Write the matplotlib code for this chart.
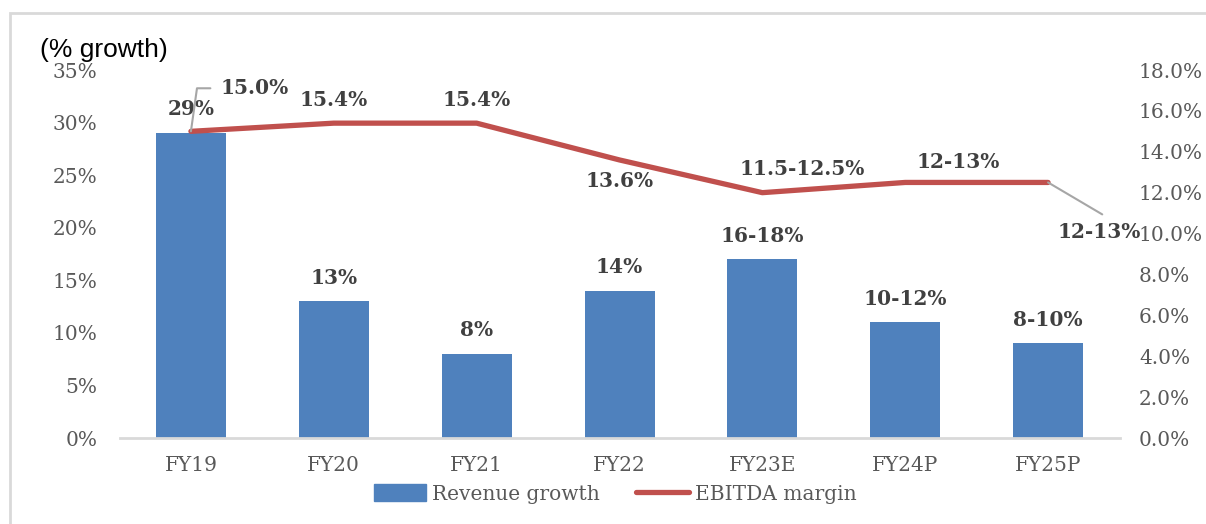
import matplotlib
matplotlib.use("Agg")
import matplotlib.pyplot as plt
from matplotlib.patches import Rectangle
from matplotlib.lines import Line2D

categories = ["FY19", "FY20", "FY21", "FY22", "FY23E", "FY24P", "FY25P"]
revenue_growth = [29, 13, 8, 14, 17, 11, 9]
revenue_labels = ["29%", "13%", "8%", "14%", "16-18%", "10-12%", "8-10%"]
ebitda_margin = [15.0, 15.4, 15.4, 13.6, 12.0, 12.5, 12.5]
ebitda_labels = ["15.0%", "15.4%", "15.4%", "13.6%", "11.5-12.5%", "12-13%", "12-13%"]
left_ticks = [0, 5, 10, 15, 20, 25, 30, 35]
right_ticks = [0, 2, 4, 6, 8, 10, 12, 14, 16, 18]

SERIF = ["DejaVu Serif"]
TICK_COLOR = "#595959"
LABEL_COLOR = "#404040"
BAR_COLOR = "#4F81BD"
LINE_COLOR = "#C0504D"
FS = 14.5

W, H = 1206, 524
fig = plt.figure(figsize=(W / 100, H / 100), dpi=100)

# outer border (only top and left edges visible)
fig.patches.append(Rectangle((10 / W, -0.5), 1.2, 0.5 + (H - 13) / H, transform=fig.transFigure,
                             fill=False, edgecolor="#D9D9D9", linewidth=2))

ax = fig.add_axes([119.5 / W, 1 - 438 / H, 1000 / W, 368 / H])
x = list(range(len(categories)))
ax.bar(x, revenue_growth, width=0.49, color=BAR_COLOR, zorder=2)
ax.set_xlim(-0.5, len(categories) - 0.5)
ax.set_ylim(0, 35)
ax.set_yticks(left_ticks)
ax.set_yticklabels([f"{t}%" for t in left_ticks], family=SERIF, fontsize=FS, color=TICK_COLOR)
ax.set_xticks(x)
ax.set_xticklabels(categories, family=SERIF, fontsize=FS, color=TICK_COLOR)
ax.tick_params(axis="y", length=0, pad=16)
ax.tick_params(axis="x", length=0, pad=13)
for s in ["top", "right", "left"]:
    ax.spines[s].set_visible(False)
ax.spines["bottom"].set_color("#D9D9D9")
ax.spines["bottom"].set_linewidth(2)

ax2 = ax.twinx()
ax2.plot(x, ebitda_margin, color=LINE_COLOR, linewidth=3.8, solid_capstyle="round", zorder=3)
ax2.set_ylim(0, 18)
ax2.set_yticks(right_ticks)
ax2.set_yticklabels([f"{t:.1f}%" for t in right_ticks], family=SERIF, fontsize=FS, color=TICK_COLOR)
ax2.tick_params(axis="y", length=0, pad=14)
for s in ["top", "right", "left", "bottom"]:
    ax2.spines[s].set_visible(False)

lab_kw = dict(family=SERIF, fontsize=FS, fontweight="bold", color=LABEL_COLOR)

# bar labels
for xi, v, t in zip(x, revenue_growth, revenue_labels):
    ax.annotate(t, (xi, v), xytext=(0, 17), textcoords="offset points",
                ha="center", va="center", **lab_kw)

# line labels (offsets in points)
offsets = [(46, 31), (0, 16.5), (0, 16.5), (0, -15), (29, 17), (38, 15), (37, -36)]
for i, (xi, v, t) in enumerate(zip(x, ebitda_margin, ebitda_labels)):
    dx, dy = offsets[i]
    ax2.annotate(t, (xi, v), xytext=(dx, dy), textcoords="offset points",
                 ha="center", va="center", **lab_kw)

# leader lines
ax2.annotate("", (0, ebitda_margin[0]), xytext=(14, 31), textcoords="offset points",
             arrowprops=dict(arrowstyle="-", color="#A6A6A6", lw=1.5,
                             connectionstyle="angle,angleA=0,angleB=82,rad=0",
                             shrinkA=0, shrinkB=0))
ax2.annotate("", (6, ebitda_margin[6]), xytext=(39, -23), textcoords="offset points",
             arrowprops=dict(arrowstyle="-", color="#A6A6A6", lw=1.5, shrinkA=0, shrinkB=0))

fig.text(40 / W, 1 - 50 / H, "(% growth)", family=["Liberation Sans"], fontsize=19,
         color="black", ha="left", va="center")

handles = [Rectangle((0, 0), 1, 1, color=BAR_COLOR),
           Line2D([0], [0], color=LINE_COLOR, linewidth=3.8, solid_capstyle="round")]
fig.legend(handles, ["Revenue growth", "EBITDA margin"], loc="center",
           bbox_to_anchor=(615 / W, 1 - 494 / H), ncol=2, frameon=False,
           prop={"family": SERIF, "size": FS}, labelcolor=TICK_COLOR,
           handlelength=2.6, handleheight=0.9, handletextpad=0.3, columnspacing=1.8)

fig.savefig("out.png", dpi=100)
